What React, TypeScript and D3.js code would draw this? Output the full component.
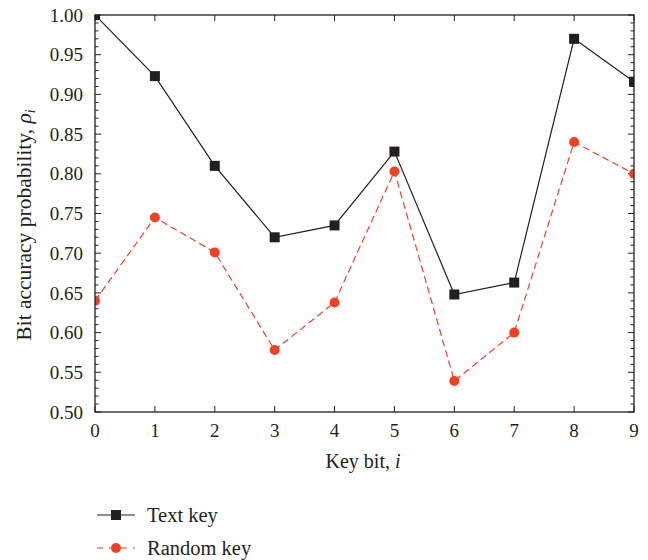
import React from 'react';
import * as d3 from 'd3';

const keyBits = [0, 1, 2, 3, 4, 5, 6, 7, 8, 9];
const textKey = [1.0, 0.923, 0.81, 0.72, 0.735, 0.828, 0.648, 0.663, 0.97, 0.916];
const randomKey = [0.64, 0.745, 0.701, 0.578, 0.638, 0.803, 0.539, 0.6, 0.84, 0.8];
const yTicks = [0.5, 0.55, 0.6, 0.65, 0.7, 0.75, 0.8, 0.85, 0.9, 0.95, 1.0];

const BLACK = '#231f20';
const RED = '#ef4123';
const FONT = '"Liberation Serif", "DejaVu Serif", serif';

const App = () => {
  const W = 648, H = 560;
  const left = 95, right = 634, top = 15, bottom = 412;

  const x = d3.scaleLinear().domain([0, 9]).range([left, right]);
  const y = d3.scaleLinear().domain([0.5, 1.0]).range([bottom, top]);

  const line = d3.line<number>()
    .x((d, i) => x(keyBits[i]))
    .y(d => y(d));

  // minor ticks every 0.01
  const minor = d3.range(50, 101).map(v => v / 100);

  return (
    <svg width={W} height={H} style={{ position: 'absolute', left: 0, top: 0 }}>
      <defs>
        <clipPath id="plotClip">
          <rect x={left} y={top} width={right - left} height={bottom - top} />
        </clipPath>
      </defs>
      <rect width={W} height={H} fill="white" />

      {minor.map((v, i) => {
        const major = i % 5 === 0;
        const len = major ? 6 : 3.5;
        return (
          <g key={'yt' + i} stroke={BLACK} strokeWidth={1}>
            <line x1={left} x2={left + len} y1={y(v)} y2={y(v)} />
            <line x1={right} x2={right - len} y1={y(v)} y2={y(v)} />
          </g>
        );
      })}
      {keyBits.map(b => (
        <g key={'xt' + b} stroke={BLACK} strokeWidth={1}>
          <line x1={x(b)} x2={x(b)} y1={bottom} y2={bottom - 6} />
          <line x1={x(b)} x2={x(b)} y1={top} y2={top + 6} />
        </g>
      ))}

      <g clipPath="url(#plotClip)">
        <path d={line(randomKey) || ''} fill="none" stroke={RED} strokeWidth={1.2} strokeDasharray="7,4" />
        <path d={line(textKey) || ''} fill="none" stroke={BLACK} strokeWidth={1.2} />
        {randomKey.map((v, i) => (
          <circle key={'c' + i} cx={x(keyBits[i])} cy={y(v)} r={5} fill={RED} />
        ))}
        {textKey.map((v, i) => (
          <rect key={'s' + i} x={x(keyBits[i]) - 5} y={y(v) - 5} width={10} height={10} fill={BLACK} />
        ))}
      </g>

      <rect x={left} y={top} width={right - left} height={bottom - top} fill="none" stroke={BLACK} strokeWidth={1.3} />

      {yTicks.map(v => (
        <text key={'yl' + v} x={left - 12} y={y(v)} dy="0.35em" textAnchor="end"
          fontFamily={FONT} fontSize={19} fill={BLACK}>{v.toFixed(2)}</text>
      ))}
      {keyBits.map(b => (
        <text key={'xl' + b} x={x(b)} y={bottom + 25} textAnchor="middle"
          fontFamily={FONT} fontSize={19} fill={BLACK}>{b}</text>
      ))}

      <text x={363} y={468} textAnchor="middle" fontFamily={FONT} fontSize={20} fill={BLACK}>
        Key bit, <tspan fontStyle="italic">i</tspan>
      </text>
      <text transform={`translate(31,225) rotate(-90)`} textAnchor="middle"
        fontFamily={FONT} fontSize={21.5} fill={BLACK}>
        Bit accuracy probability, <tspan fontStyle="italic">ρ</tspan><tspan fontStyle="italic" fontSize={14} dy="4">i</tspan>
      </text>

      <g>
        <line x1={97} x2={135} y1={515} y2={515} stroke={BLACK} strokeWidth={1.2} />
        <rect x={111} y={510} width={10} height={10} fill={BLACK} />
        <text x={147} y={515} dy="0.35em" fontFamily={FONT} fontSize={20.5} fill={BLACK}>Text key</text>
        <line x1={97} x2={135} y1={548} y2={548} stroke={RED} strokeWidth={1.2} strokeDasharray="6,6" />
        <circle cx={116} cy={548} r={5} fill={RED} />
        <text x={147} y={548} dy="0.35em" fontFamily={FONT} fontSize={20.5} fill={BLACK}>Random key</text>
      </g>
    </svg>
  );
};

export default App;
